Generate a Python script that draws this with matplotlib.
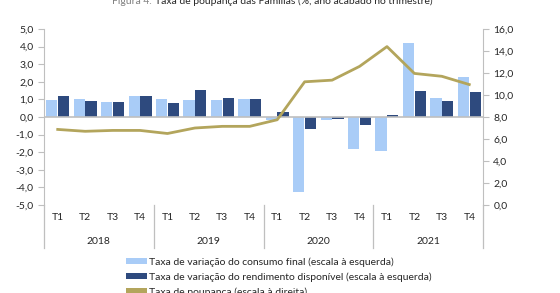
import matplotlib
matplotlib.use("Agg")
import matplotlib.pyplot as plt
from matplotlib.patches import Patch
import numpy as np

plt.rcParams['font.family'] = ['Lato', 'DejaVu Sans']

years = ["2018", "2019", "2020", "2021"]
quarters = ["T1", "T2", "T3", "T4"]
consumo = [0.96, 1.04, 0.85, 1.21, 1.04, 0.96, 0.96, 1.04,
           -0.15, -4.28, -0.19, -1.83, -1.92, 4.2, 1.09, 2.28]
rendimento = [1.21, 0.91, 0.85, 1.21, 0.81, 1.55, 1.09, 1.04,
              0.3, -0.66, -0.11, -0.47, 0.09, 1.45, 0.91, 1.4]
poupanca = [6.87, 6.7, 6.78, 6.78, 6.5, 7.0, 7.15, 7.15,
            7.75, 11.2, 11.35, 12.6, 14.4, 11.96, 11.7, 10.95]
labels = ["Taxa de variação do consumo final (escala à esquerda)",
          "Taxa de variação do rendimento disponível (escala à esquerda)",
          "Taxa de poupança (escala à direita)"]

c_light = "#A9CCF7"
c_dark = "#2E4A7E"
c_line = "#B3A55C"
c_axis = "#BFBFBF"
c_text = "#262626"

W, H = 560, 293
fig = plt.figure(figsize=(W / 100, H / 100), dpi=100)
x0, x1, ytop, ybot = 44, 483, 29, 205
ax = fig.add_axes([x0 / W, 1 - ybot / H, (x1 - x0) / W, (ybot - ytop) / H])
ax2 = ax.twinx()

n = len(consumo)
x = np.arange(n)
bw = 0.41
ax.bar(x - bw / 2 - 0.01, consumo, width=bw, color=c_light, zorder=2)
ax.bar(x + bw / 2 + 0.01, rendimento, width=bw, color=c_dark, zorder=2)
ax.axhline(0, color=c_axis, lw=1.2, zorder=3)
ax2.plot(x, poupanca, color=c_line, lw=2, zorder=4)

ax.set_xlim(-0.5, n - 0.5)
ax.set_ylim(-5, 5)
ax2.set_ylim(0, 16)
ax.set_yticks(np.arange(-5, 5.1, 1))
ax.set_yticklabels([f"{v:.1f}".replace(".", ",") for v in np.arange(-5, 5.1, 1)])
ax2.set_yticks(np.arange(0, 16.1, 2))
ax2.set_yticklabels([f"{v:.1f}".replace(".", ",") for v in np.arange(0, 16.1, 2)])

for a in (ax, ax2):
    for s in ("top", "bottom"):
        a.spines[s].set_visible(False)
    a.spines["left"].set_color(c_axis)
    a.spines["right"].set_color(c_axis)
    a.tick_params(axis="y", colors=c_axis, labelcolor=c_text, labelsize=7.5, length=4, width=0.8)
ax.spines["right"].set_visible(False)
ax2.spines["left"].set_visible(False)
ax.set_xticks([])

# category axis
trans = ax.get_xaxis_transform()
ext = -(248 - ybot) / (ybot - ytop)
for b in range(len(years) + 1):
    xb = -0.5 + 4 * b
    ax.plot([xb, xb], [0, ext], transform=trans, color=c_axis, lw=0.9, clip_on=False)
for i in range(n):
    ax.text(i, -(218 - ybot) / (ybot - ytop), quarters[i % 4], transform=trans,
            ha="center", va="center", fontsize=7.5, color=c_text)
for j, yr in enumerate(years):
    ax.text(4 * j + 1.5, -(241 - ybot) / (ybot - ytop), yr, transform=trans,
            ha="center", va="center", fontsize=7.5, color=c_text)

# title (partly cut, as in the reference)
fig.text(152 / W, 1 - 4 / H, "Figura 4.", ha="right", va="baseline", fontsize=7.5, color="#7F7F7F")
fig.text(155 / W, 1 - 4 / H, "Taxa de poupança das Famílias (%, ano acabado no trimestre)",
         ha="left", va="baseline", fontsize=7.5, color=c_text)

handles = [Patch(facecolor=c_light), Patch(facecolor=c_dark), Patch(facecolor=c_line)]
leg = fig.legend(handles, labels, loc="upper left", bbox_to_anchor=(126 / W, 1 - 257 / H),
                 frameon=False, fontsize=7.5, handlelength=2.0, handleheight=0.5,
                 handletextpad=0.2, labelspacing=0.55, borderaxespad=0, borderpad=0)
for t in leg.get_texts():
    t.set_color(c_text)

fig.savefig("out.png", dpi=100)
